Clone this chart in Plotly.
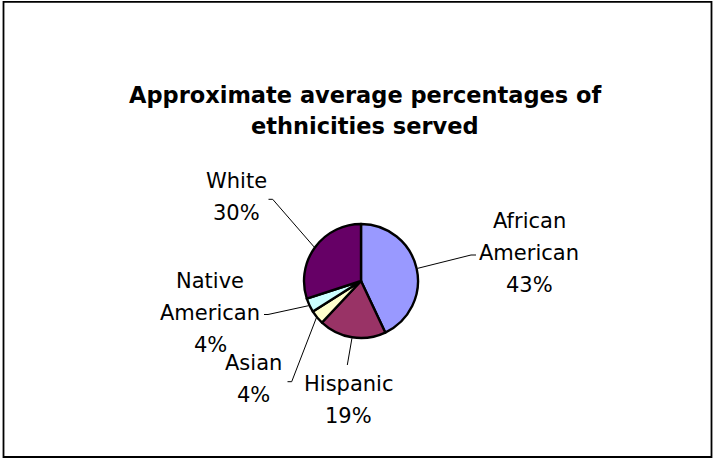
import math
import plotly.graph_objects as go

# ---- data ----
labels = ["African American", "Hispanic", "Asian", "Native American", "White"]
values = [43, 19, 4, 4, 30]
colors = ["#9999FF", "#993366", "#FFFFCC", "#CCFFFF", "#660066"]
title_lines = ["Approximate average percentages of", "ethnicities served"]
label_text = [["African", "American"], ["Hispanic"], ["Asian"], ["Native", "American"], ["White"]]

# ---- layout constants (pixels) ----
W, H = 714, 459
CX, CY, R = 361, 281, 57
LINE_GAP = 32
label_pos = [(529, 221), (348, 384), (253, 363), (210, 281), (236, 181)]
leader_end = [
    [(471, 255), (476, 255)],
    [(347.3, 365)],
    [(291.7, 381.7), (287.5, 381.7)],
    [(268, 314.5), (264, 314.5)],
    [(272.7, 199.3), (268.5, 199.3)],
]

def px(x):
    return x / W

def py(y):
    return 1 - y / H

fig = go.Figure()
fig.add_trace(go.Pie(
    labels=labels, values=values, sort=False, direction="clockwise", rotation=0,
    marker=dict(colors=colors, line=dict(color="black", width=2.4)),
    textinfo="none", showlegend=False,
    domain=dict(x=[px(CX - R), px(CX + R)], y=[py(CY + R), py(CY - R)]),
))

annotations = []
for i, line in enumerate(title_lines):
    annotations.append(dict(
        text=line, x=px(365), y=py(95 + i * 31), xref="paper", yref="paper",
        xanchor="center", yanchor="middle", showarrow=False,
        font=dict(family="DejaVu Sans", size=22.5, color="black", weight="bold"),
    ))

total = sum(values)
shapes = []
cum = 0
for i, v in enumerate(values):
    pct = round(100 * v / total)
    lines = label_text[i] + [f"{pct}%"]
    lx, ly = label_pos[i]
    for j, t in enumerate(lines):
        annotations.append(dict(
            text=t, x=px(lx), y=py(ly + j * LINE_GAP), xref="paper", yref="paper",
            xanchor="center", yanchor="middle", showarrow=False,
            font=dict(family="DejaVu Sans", size=21, color="black"),
        ))
    mid = (cum + v / 2) / total * 2 * math.pi
    cum += v
    sx = CX + (R + 1) * math.sin(mid)
    sy = CY - (R + 1) * math.cos(mid)
    pts = [(sx, sy)] + leader_end[i]
    path = "M " + " L ".join(f"{px(x)},{py(y)}" for x, y in pts)
    shapes.append(dict(type="path", path=path, xref="paper", yref="paper",
                       line=dict(color="black", width=1)))

# chart border
shapes.append(dict(type="rect", xref="paper", yref="paper",
                   x0=px(3.5), x1=px(711.5), y0=py(457), y1=py(1.8),
                   line=dict(color="black", width=1.8)))

fig.update_layout(
    width=W, height=H, margin=dict(l=0, r=0, t=0, b=0),
    paper_bgcolor="white", plot_bgcolor="white",
    annotations=annotations, shapes=shapes,
)
fig.write_html("out.html")
